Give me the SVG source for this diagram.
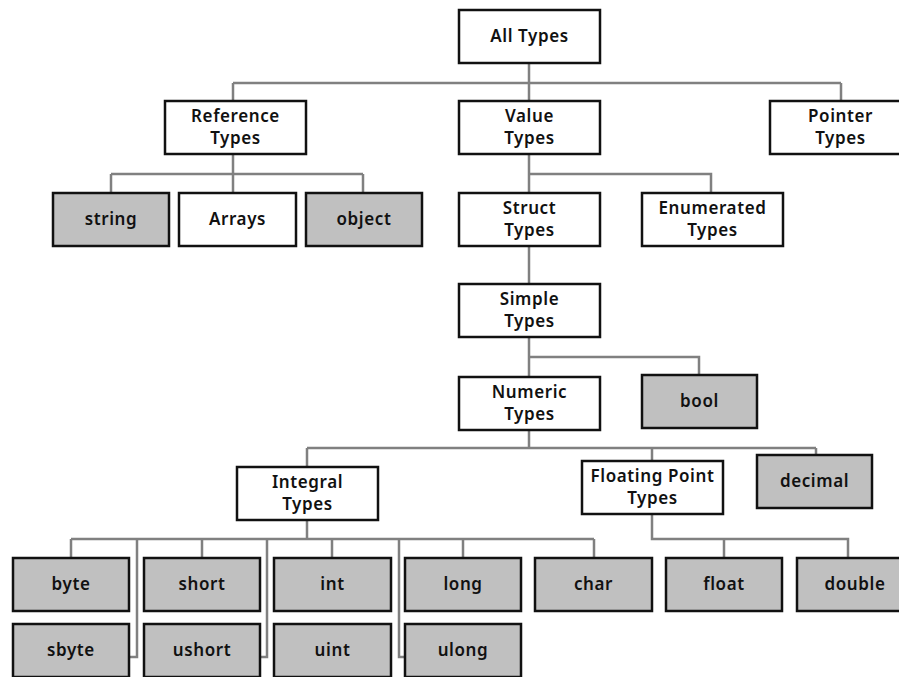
<svg xmlns="http://www.w3.org/2000/svg" width="899" height="677" viewBox="0 0 899 677">
<style>
.b{fill:#fff;stroke:#111;stroke-width:2.5}
.g{fill:#c0c0c0;stroke:#111;stroke-width:2.5}
.t{font-family:"Noto Sans","Open Sans",sans-serif;font-size:17px;font-weight:600;letter-spacing:0.6px;fill:#111;text-anchor:middle}
.c{fill:none;stroke:#808080;stroke-width:2.5}
</style>
<rect width="899" height="677" fill="#fff"/>
<g id="connectors" class="c">
<path d="M529,63V83M233,83H841M233,83V100M529,83V100M841,83V100"/>
<path d="M233,155V192M111,174H363M111,174V192M363,174V192"/>
<path d="M529,155V192M529,174H711V192"/>
<path d="M529,247V283"/>
<path d="M529,338V376M529,357H699V374"/>
<path d="M529,431V448M307,448H816M307,448V466M652,448V460M816,448V454"/>
<path d="M307,520V539M71,539H594M71,539V557M202,539V557M332,539V557M463,539V557M594,539V557"/>
<path d="M137,539V657H130M267,539V657H261M399,539V657H404"/>
<path d="M652,514V539H848V557M724,539V557"/>
</g>
<g id="all-types"><rect class="b" x="459" y="10" width="141" height="53"/><text class="t" x="529.5" y="42">All Types</text></g>
<g id="reference-types"><rect class="b" x="165" y="101" width="141" height="53"/><text class="t" x="235.5" y="122">Reference</text><text class="t" x="235.5" y="144">Types</text></g>
<g id="value-types"><rect class="b" x="459" y="101" width="141" height="53"/><text class="t" x="529.5" y="122">Value</text><text class="t" x="529.5" y="144">Types</text></g>
<g id="pointer-types"><rect class="b" x="770" y="101" width="141" height="53"/><text class="t" x="840.5" y="122">Pointer</text><text class="t" x="840.5" y="144">Types</text></g>
<g id="string"><rect class="g" x="53" y="193" width="116" height="53"/><text class="t" x="111" y="225">string</text></g>
<g id="arrays"><rect class="b" x="179" y="193" width="117" height="53"/><text class="t" x="237.5" y="225">Arrays</text></g>
<g id="object"><rect class="g" x="306" y="193" width="116" height="53"/><text class="t" x="364" y="225">object</text></g>
<g id="struct-types"><rect class="b" x="459" y="193" width="141" height="53"/><text class="t" x="529.5" y="214">Struct</text><text class="t" x="529.5" y="236">Types</text></g>
<g id="enumerated-types"><rect class="b" x="642" y="193" width="141" height="53"/><text class="t" x="712.5" y="214">Enumerated</text><text class="t" x="712.5" y="236">Types</text></g>
<g id="simple-types"><rect class="b" x="459" y="284" width="141" height="53"/><text class="t" x="529.5" y="305">Simple</text><text class="t" x="529.5" y="327">Types</text></g>
<g id="numeric-types"><rect class="b" x="459" y="377" width="141" height="53"/><text class="t" x="529.5" y="398">Numeric</text><text class="t" x="529.5" y="420">Types</text></g>
<g id="bool"><rect class="g" x="642" y="375" width="115" height="53"/><text class="t" x="699.5" y="407">bool</text></g>
<g id="integral-types"><rect class="b" x="237" y="467" width="141" height="53"/><text class="t" x="307.5" y="488">Integral</text><text class="t" x="307.5" y="510">Types</text></g>
<g id="floating-point-types"><rect class="b" x="582" y="461" width="141" height="53"/><text class="t" x="652.5" y="482">Floating Point</text><text class="t" x="652.5" y="504">Types</text></g>
<g id="decimal"><rect class="g" x="757" y="455" width="115" height="53"/><text class="t" x="814.5" y="487">decimal</text></g>
<g id="byte"><rect class="g" x="13" y="558" width="116" height="53"/><text class="t" x="71" y="590">byte</text></g>
<g id="sbyte"><rect class="g" x="13" y="624" width="116" height="53"/><text class="t" x="71" y="656">sbyte</text></g>
<g id="short"><rect class="g" x="144" y="558" width="116" height="53"/><text class="t" x="202" y="590">short</text></g>
<g id="ushort"><rect class="g" x="144" y="624" width="116" height="53"/><text class="t" x="202" y="656">ushort</text></g>
<g id="int"><rect class="g" x="274" y="558" width="117" height="53"/><text class="t" x="332.5" y="590">int</text></g>
<g id="uint"><rect class="g" x="274" y="624" width="117" height="53"/><text class="t" x="332.5" y="656">uint</text></g>
<g id="long"><rect class="g" x="405" y="558" width="116" height="53"/><text class="t" x="463" y="590">long</text></g>
<g id="ulong"><rect class="g" x="405" y="624" width="116" height="53"/><text class="t" x="463" y="656">ulong</text></g>
<g id="char"><rect class="g" x="535" y="558" width="117" height="53"/><text class="t" x="593.5" y="590">char</text></g>
<g id="float"><rect class="g" x="666" y="558" width="116" height="53"/><text class="t" x="724" y="590">float</text></g>
<g id="double"><rect class="g" x="797" y="558" width="116" height="53"/><text class="t" x="855" y="590">double</text></g>
</svg>
